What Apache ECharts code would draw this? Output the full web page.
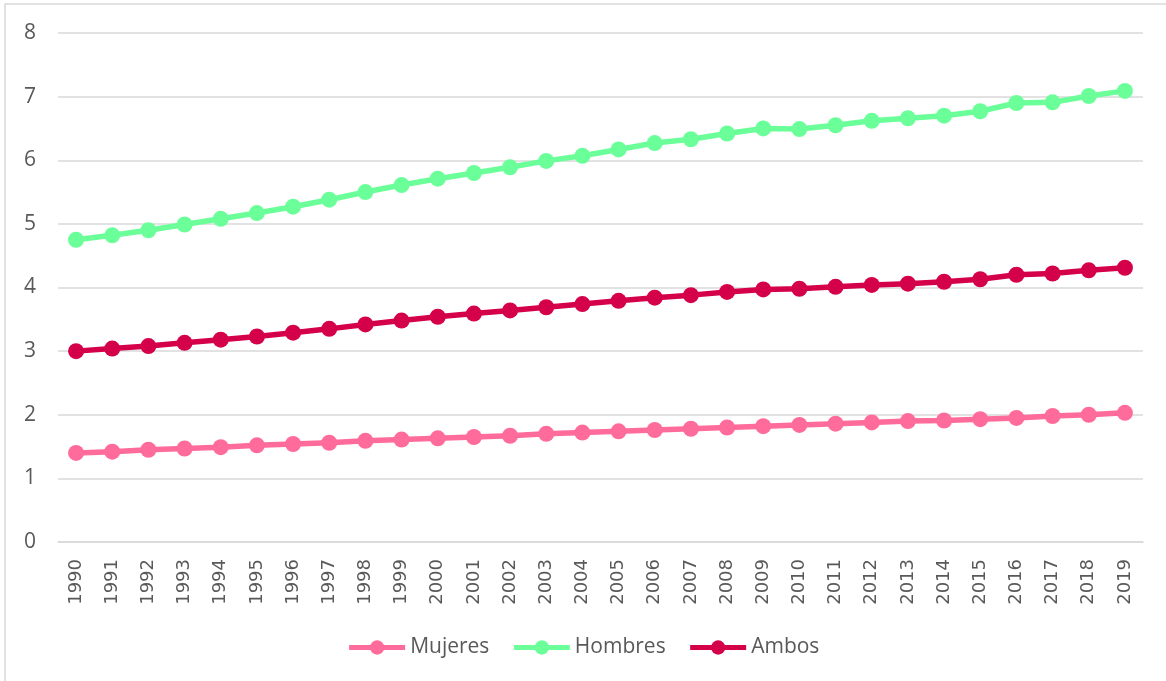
<!DOCTYPE html>
<html>
<head>
<meta charset="utf-8">
<script src="https://cdn.jsdelivr.net/npm/echarts@6/dist/echarts.min.js"></script>
<style>
  html, body { margin: 0; padding: 0; background: #ffffff; }
  #chart { width: 1166px; height: 681px; }
</style>
</head>
<body>
<div id="chart"></div>
<script>
const years = ['1990','1991','1992','1993','1994','1995','1996','1997','1998','1999',
               '2000','2001','2002','2003','2004','2005','2006','2007','2008','2009',
               '2010','2011','2012','2013','2014','2015','2016','2017','2018','2019'];
const mujeres = [1.40,1.42,1.45,1.47,1.49,1.52,1.54,1.56,1.59,1.61,
                 1.63,1.65,1.67,1.70,1.72,1.74,1.76,1.78,1.80,1.82,
                 1.84,1.86,1.88,1.90,1.91,1.93,1.95,1.98,2.00,2.03];
const hombres = [4.75,4.82,4.90,4.99,5.08,5.17,5.27,5.38,5.50,5.61,
                 5.71,5.80,5.89,5.99,6.07,6.17,6.27,6.33,6.42,6.50,
                 6.49,6.55,6.62,6.66,6.70,6.77,6.90,6.91,7.01,7.09];
const ambos = [3.00,3.04,3.08,3.13,3.18,3.23,3.29,3.35,3.42,3.48,
               3.54,3.59,3.64,3.69,3.74,3.79,3.84,3.88,3.93,3.97,
               3.98,4.01,4.04,4.06,4.09,4.13,4.20,4.22,4.27,4.31];
const yTicks = { min: 0, max: 8, interval: 1 };

const chart = echarts.init(document.getElementById('chart'), null, { renderer: 'canvas' });

function mk(name, data, color) {
  return {
    name: name, type: 'line', data: data,
    symbol: 'circle', symbolSize: 16,
    lineStyle: { width: 5.5, color: color },
    itemStyle: { color: color },
    emphasis: { disabled: true },
    animation: false
  };
}

chart.setOption({
  animation: false,
  backgroundColor: '#ffffff',
  graphic: [{
    type: 'rect', silent: true,
    shape: { x: 5, y: 4, width: 1200, height: 720 },
    style: { fill: 'none', stroke: '#d9d9d9', lineWidth: 1.5 }
  }],
  grid: { left: 58, right: 23, top: 33, bottom: 139, containLabel: false },
  legend: {
    data: ['Mujeres', 'Hombres', 'Ambos'],
    bottom: 18, left: 'center',
    itemWidth: 56, itemHeight: 18, itemGap: 22,
    lineStyle: { width: 5 },
    textStyle: { fontFamily: 'Open Sans', fontSize: 21, color: '#595959' }
  },
  xAxis: {
    type: 'category', data: years, boundaryGap: true,
    axisLine: { show: true, lineStyle: { color: '#d9d9d9', width: 1.5 } },
    axisTick: { show: false },
    axisLabel: { rotate: 90, margin: 17, fontFamily: 'DejaVu Sans', fontSize: 18, color: '#595959', interval: 0 }
  },
  yAxis: {
    type: 'value', min: yTicks.min, max: yTicks.max, interval: yTicks.interval,
    axisLine: { show: false }, axisTick: { show: false },
    splitLine: { lineStyle: { color: '#d9d9d9', width: 1.5 } },
    axisLabel: { margin: 22, fontFamily: 'Open Sans', fontSize: 21, color: '#595959' }
  },
  series: [
    mk('Mujeres', mujeres, '#ff6b9b'),
    mk('Hombres', hombres, '#6bff9a'),
    mk('Ambos', ambos, '#d5004a')
  ]
});
</script>
</body>
</html>
